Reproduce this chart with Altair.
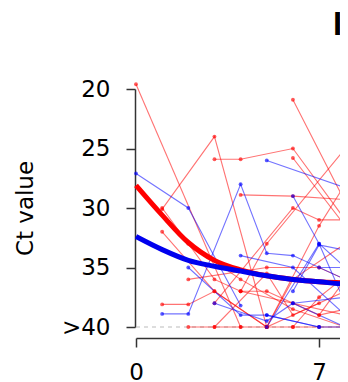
import altair as alt
import pandas as pd

# ---- thin trajectories: (days, Ct values) ----
red_series = [
    ([0, 4], [19.6, 40]),
    ([1, 3, 5], [30.1, 24, 40]),
    ([3, 4, 6, 8, 10], [25.9, 25.9, 25, 31, 36]),
    ([6, 8, 10], [20.9, 29.5, 38]),
    ([6, 8, 10], [25.8, 31.5, 35]),
    ([4, 5, 8, 10], [37, 33, 25, 27]),
    ([4, 6, 8, 10], [28.9, 29, 29.3, 30]),
    ([1, 2, 3, 5], [38.1, 38.1, 37, 40]),
    ([2, 3, 4, 5, 6, 7, 8, 10], [40, 40, 40, 40, 40, 40, 40, 40]),
    ([1, 3, 5, 7], [32, 37, 40, 38]),
    ([1, 3, 4, 6, 8], [30, 36, 37, 38, 39]),
    ([3, 6, 7, 8, 10], [38, 30, 31, 31, 33]),
    ([2, 5, 7, 9], [36, 35, 35, 37]),
    ([4, 5, 7, 9], [37, 37, 39, 38]),
    ([5, 7, 8, 10], [40, 31.5, 28, 34]),
    ([2, 4, 6, 8, 10], [33, 36, 38.5, 40, 39]),
    ([3, 5, 6, 8, 10], [40, 35.5, 39, 37, 40]),
    ([5, 6, 8, 10], [40, 36, 33, 38]),
    ([6, 7, 9], [40, 37.5, 34]),
    ([7, 8, 10], [39, 36, 40]),
]
blue_series = [
    ([0, 2, 4], [27.1, 30, 38.2]),
    ([1, 2, 4, 5, 6, 8, 10], [38.9, 38.9, 28, 33.8, 34, 36, 38]),
    ([5, 8, 10], [26, 28.3, 31]),
    ([2, 4, 5, 7], [35, 39, 39, 40]),
    ([3, 5, 6, 8], [38, 39.5, 38, 40]),
    ([6, 7, 8, 10], [29, 33, 35, 37]),
    ([5, 7, 8, 10], [39, 40, 40, 39]),
    ([5, 7, 8, 10], [40, 33, 38, 36]),
    ([6, 7, 9], [37, 33.1, 34]),
    ([7, 8, 10], [35, 35, 36]),
    ([4, 6, 8, 10], [34, 35, 39, 37]),
    ([6, 8, 10], [38, 37.5, 39]),
]

# ---- smoothed trends ----
trend_days = [0, 1, 2, 3, 4, 5, 6, 7, 8, 9, 10]
red_trend = [28.1, 30.6, 32.9, 34.4, 35.2, 35.7, 36.0, 36.2, 36.3, 36.4, 36.5]
blue_trend = [32.4, 33.5, 34.4, 34.9, 35.3, 35.7, 36.0, 36.2, 36.4, 36.5, 36.6]

y_ticks = [20, 25, 30, 35, 40]
x_ticks = [0, 7]

rows = []
for grp, series in (("red", red_series), ("blue", blue_series)):
    for i, (ds, vs) in enumerate(series):
        for d, v in zip(ds, vs):
            rows.append({"id": f"{grp}{i}", "group": grp, "day": d, "ct": v})
thin = pd.DataFrame(rows)

trend = pd.DataFrame(
    [{"group": "red", "day": d, "ct": v} for d, v in zip(trend_days, red_trend)]
    + [{"group": "blue", "day": d, "ct": v} for d, v in zip(trend_days, blue_trend)]
)

FONT = "DejaVu Sans"
xscale = alt.Scale(domain=[0, 7.80], nice=False, zero=False)
yscale = alt.Scale(domain=[20, 40], reverse=True, nice=False, zero=False)
cscale = alt.Scale(domain=["red", "blue"], range=["#ff0000", "#0000ff"])

x_enc = alt.X("day:Q", scale=xscale, axis=alt.Axis(
    values=x_ticks, title=None, offset=11, tickSize=9, tickWidth=1.5,
    domainWidth=1.5, domainColor="#333333", tickColor="#333333",
    labelFontSize=23, labelFont=FONT, labelColor="#000000", labelPadding=14,
    grid=False, labelFlush=False))
y_enc = alt.Y("ct:Q", scale=yscale, axis=alt.Axis(
    values=y_ticks, title="Ct value", offset=1, tickSize=9, tickWidth=1.5,
    domainWidth=1.5, domainColor="#333333", tickColor="#333333",
    labelFontSize=23, labelFont=FONT, labelColor="#000000", labelPadding=16,
    labelExpr="datum.value == 40 ? '>40' : datum.label",
    titleFontSize=23, titleFont=FONT, titleFontWeight="normal",
    titleColor="#000000", titleX=-98, grid=False))

dash = pd.DataFrame({"y": [40], "x0": [0], "x1": [10]})
dash_layer = alt.Chart(dash).mark_rule(color="#bbbbbb", strokeDash=[4, 4], strokeWidth=1).encode(
    x=alt.X("x0:Q", scale=xscale), x2="x1:Q", y=alt.Y("y:Q", scale=yscale))

lines = alt.Chart(thin).mark_line(strokeWidth=1.1, opacity=0.55).encode(
    x=x_enc, y=y_enc,
    color=alt.Color("group:N", scale=cscale, legend=None),
    detail="id:N")
pts = alt.Chart(thin).mark_circle(size=15, opacity=0.65).encode(
    x="day:Q", y="ct:Q",
    color=alt.Color("group:N", scale=cscale, legend=None))

red_thick = alt.Chart(trend[trend.group == "red"]).mark_line(
    strokeWidth=5, interpolate="monotone", color="#ff0000").encode(x="day:Q", y="ct:Q")
blue_thick = alt.Chart(trend[trend.group == "blue"]).mark_line(
    strokeWidth=5, interpolate="monotone", color="#0000ee").encode(x="day:Q", y="ct:Q")

panel = pd.DataFrame({"t": ["I"]})
panel_txt = alt.Chart(panel).mark_text(
    font="Liberation Sans", fontSize=33, fontWeight="bold", align="left",
    baseline="alphabetic", color="#000000").encode(
    text="t:N", x=alt.value(197), y=alt.value(-54))

chart = alt.layer(dash_layer, lines, pts, red_thick, blue_thick, panel_txt).properties(
    width=204, height=238,
    autosize=alt.AutoSizeParams(type="none"),
    padding={"left": 128, "top": 81, "right": 0, "bottom": 55},
).configure_view(strokeWidth=0)

chart.save("out.html", embed_options={"renderer": "svg", "actions": False})
